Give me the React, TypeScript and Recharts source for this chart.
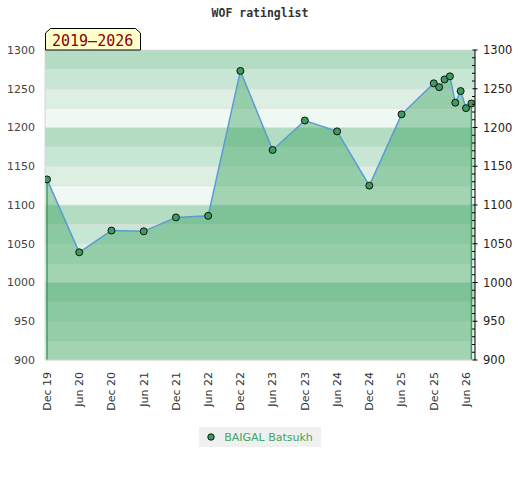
import {
  ComposedChart,
  Area,
  Line,
  XAxis,
  YAxis,
  CartesianGrid,
  ReferenceArea,
  ReferenceLine,
  Legend,
} from "recharts";

// months counted from Dec 2019
const monthIndex = [0, 6, 12, 18, 24, 30, 36, 42, 48, 54, 60, 66, 72, 73, 74, 75, 76, 77, 78, 79];
const ratings = [1133, 1039, 1067, 1066, 1084, 1086, 1273, 1171, 1209, 1195, 1125, 1217, 1257, 1252, 1262, 1266, 1232, 1247, 1225, 1231];

const xTicks = [0, 6, 12, 18, 24, 30, 36, 42, 48, 54, 60, 66, 72, 78];
const xLabels = ["Dec 19", "Jun 20", "Dec 20", "Jun 21", "Dec 21", "Jun 22", "Dec 22", "Jun 23", "Dec 23", "Jun 24", "Dec 24", "Jun 25", "Dec 25", "Jun 26"];
const yTicks = [900, 950, 1000, 1050, 1100, 1150, 1200, 1250, 1300];

const PLAYER = "BAIGAL Batsukh";
const TITLE = "WOF ratinglist";
const PERIOD = "2019\u20132026";

const FONT = "'DejaVu Sans', sans-serif";
const MONO = "'DejaVu Sans Mono', monospace";
const BAND_COLORS = ["#f0f8f3", "#dcefe2", "#c8e6d4", "#b3dcc3"];

const chartData = monthIndex.map((m, i) => ({ m, rating: ratings[i] }));

// background stripes, 25 points each
const bands: { y1: number; y2: number; color: string }[] = [];
for (let v = 900; v < 1300; v += 25) {
  bands.push({ y1: v, y2: v + 25, color: BAND_COLORS[(v % 100) / 25] });
}

const minorTicks: number[] = [];
for (let v = 900; v <= 1300; v += 10) minorTicks.push(v);

const XTick = (props: any) => {
  const { x, y, payload } = props;
  const idx = xTicks.indexOf(payload.value);
  return (
    <text
      transform={`translate(${x},${y + 4}) rotate(-90)`}
      textAnchor="end"
      dy="0.35em"
      fontSize={11}
      fontFamily={FONT}
      fill="#333"
    >
      {xLabels[idx]}
    </text>
  );
};

const RightTick = (props: any) => {
  const { x, y, payload } = props;
  const axisX = x - 7;
  const major = payload.value % 50 === 0;
  return (
    <g>
      {major ? (
        <line x1={axisX - 2.5} x2={axisX + 2.5} y1={y} y2={y} stroke="#000" />
      ) : (
        <line x1={axisX - 3} x2={axisX} y1={y} y2={y} stroke="#000" />
      )}
      {major && (
        <text x={x + 1} y={y} dy="0.35em" textAnchor="start" fontSize={11.5} fontFamily={FONT} fill="#222">
          {payload.value}
        </text>
      )}
    </g>
  );
};

const LegendBox = () => (
  <div style={{ display: "flex", justifyContent: "center", height: 20 }}>
    <div
      style={{
        background: "#f0f0f0",
        height: 20,
        display: "flex",
        alignItems: "center",
        padding: "0 8px 0 8px",
        fontFamily: FONT,
        fontSize: 11,
        color: "#3ea562",
      }}
    >
      <svg width={10} height={10} style={{ marginRight: 7 }}>
        <circle cx={4} cy={5} r={3.2} fill="#3a9d5d" stroke="#111" strokeWidth={1} />
      </svg>
      {PLAYER}
    </div>
  </div>
);

export default function App() {
  const last = chartData.length - 1;
  return (
    <div style={{ position: "absolute", left: 0, top: 0, width: 520, height: 480, background: "#fff" }}>
      <ComposedChart
        width={520}
        height={480}
        data={chartData}
        margin={{ top: 50, right: 0, left: 0, bottom: 33 }}
      >
        {bands.map((b) => (
          <ReferenceArea
            key={b.y1}
            yAxisId="left"
            y1={b.y1}
            y2={b.y2}
            fill={b.color}
            fillOpacity={1}
            stroke="#dedede"
            strokeWidth={0.6}
            ifOverflow="hidden"
          />
        ))}
        <CartesianGrid yAxisId="left" vertical={false} stroke="#d8d8d8" strokeOpacity={0.6} />
        <XAxis
          dataKey="m"
          type="number"
          domain={[-0.37, 79.67]}
          ticks={xTicks}
          allowDataOverflow
          height={67}
          tick={<XTick />}
          tickLine={false}
          tickSize={6}
          tickMargin={2}
          axisLine={{ stroke: "#d6d6d6" }}
          interval={0}
        />
        <YAxis
          yAxisId="left"
          domain={[900, 1300]}
          ticks={yTicks}
          width={45}
          tickLine={false}
          tickSize={6}
          tickMargin={4}
          axisLine={{ stroke: "#d6d6d6" }}
          tick={{ fontSize: 11, fontFamily: FONT, fill: "#444" }}
          interval={0}
        />
        <YAxis
          yAxisId="right"
          orientation="right"
          domain={[900, 1300]}
          ticks={minorTicks}
          width={45}
          tickLine={false}
          tickSize={4}
          tickMargin={3}
          axisLine={{ stroke: "#000" }}
          tick={<RightTick />}
          interval={0}
        />
        <Area
          yAxisId="right"
          type="linear"
          dataKey="rating"
          fill="#2e9e55"
          fillOpacity={0.4}
          stroke="none"
          isAnimationActive={false}
          legendType="none"
        />
        <ReferenceLine
          yAxisId="left"
          segment={[
            { x: monthIndex[0], y: 900 },
            { x: monthIndex[0], y: ratings[0] },
          ]}
          stroke="#3a9d5d"
          strokeWidth={1.5}
        />
        <ReferenceLine
          yAxisId="left"
          segment={[
            { x: monthIndex[last], y: 900 },
            { x: monthIndex[last], y: ratings[last] },
          ]}
          stroke="#3a9d5d"
          strokeWidth={1.5}
        />
        <Line
          yAxisId="left"
          type="linear"
          dataKey="rating"
          name={PLAYER}
          stroke="#5b9bd5"
          strokeWidth={1.5}
          dot={{ r: 3.5, fill: "#3a9d5d", stroke: "#111", strokeWidth: 1 }}
          isAnimationActive={false}
        />
        <Legend verticalAlign="bottom" content={<LegendBox />} />
      </ComposedChart>
      <svg width={520} height={52} style={{ position: "absolute", left: 0, top: 0, pointerEvents: "none" }}>
        <text x={260} y={17} textAnchor="middle" fontFamily={MONO} fontWeight="bold" fontSize={11.5} fill="#333">
          {TITLE}
        </text>
        <polygon points="45.5,50 45.5,33 50.5,28.5 135.5,28.5 140.5,33 140.5,50" fill="#ffffcc" stroke="#000" strokeWidth={1} />
        <text x={52} y={45.5} fontFamily={MONO} fontSize={15} fill="#8b0000">
          {PERIOD}
        </text>
      </svg>
    </div>
  );
}
